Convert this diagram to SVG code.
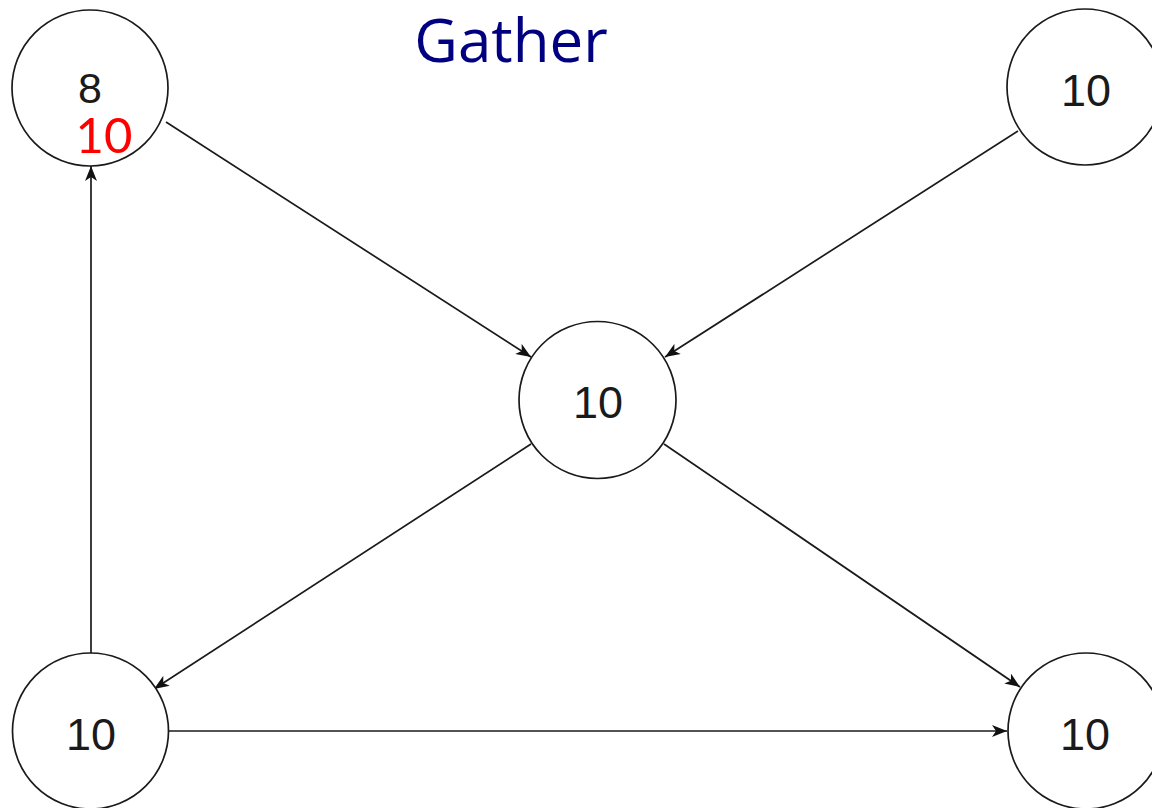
<svg xmlns="http://www.w3.org/2000/svg" width="1152" height="808" viewBox="0 0 1152 808">
<style>
.node{fill:#fff;stroke:#1a1a1a;stroke-width:1.7}
.lbl{font-family:"Liberation Sans",Arial,sans-serif;font-size:45px;fill:#1a1a1a;text-anchor:middle}
.edge{fill:none;stroke:#1a1a1a;stroke-width:1.7}
.title{font-family:"Open Sans",Lato,sans-serif;font-size:60px;fill:#000080;text-anchor:middle}
.red{font-family:Lato,"Open Sans",sans-serif;font-size:49px;fill:#ff0000;text-anchor:middle}
</style>
<defs>
<marker id="arr" viewBox="0 0 15 12" refX="15" refY="6" markerWidth="15" markerHeight="12" markerUnits="userSpaceOnUse" orient="auto">
<path d="M0,0 L15,6 L0,12 L4,6 Z" fill="#111"/>
</marker>
</defs>
<rect width="1152" height="808" fill="#fff"/>
<text class="title" x="511" y="62">Gather</text>
<g id="connectors">
<line class="edge" x1="166" y1="122" x2="531" y2="357" marker-end="url(#arr)"/>
<line class="edge" x1="1018" y1="131" x2="665" y2="357" marker-end="url(#arr)"/>
<line class="edge" x1="531" y1="444" x2="154" y2="689" marker-end="url(#arr)"/>
<line class="edge" x1="664" y1="444" x2="1020" y2="687" marker-end="url(#arr)"/>
<line class="edge" x1="168" y1="731" x2="1007" y2="731" marker-end="url(#arr)"/>
<line class="edge" x1="91" y1="653" x2="91" y2="166" marker-end="url(#arr)"/>
</g>
<g id="n-topleft">
<circle class="node" cx="90" cy="88" r="78"/>
<text class="lbl" x="90" y="103" style="font-size:43px">8</text>
<text class="red" x="104" y="153">10</text>
</g>
<g id="n-topright">
<circle class="node" cx="1085" cy="87" r="78"/>
<text class="lbl" x="1086" y="106">10</text>
</g>
<g id="n-center">
<circle class="node" cx="597.5" cy="400" r="78.5"/>
<text class="lbl" x="598" y="418">10</text>
</g>
<g id="n-bottomleft">
<circle class="node" cx="90.5" cy="731" r="78"/>
<text class="lbl" x="91" y="750">10</text>
</g>
<g id="n-bottomright">
<circle class="node" cx="1086" cy="731" r="78"/>
<text class="lbl" x="1085" y="750">10</text>
</g>
</svg>
